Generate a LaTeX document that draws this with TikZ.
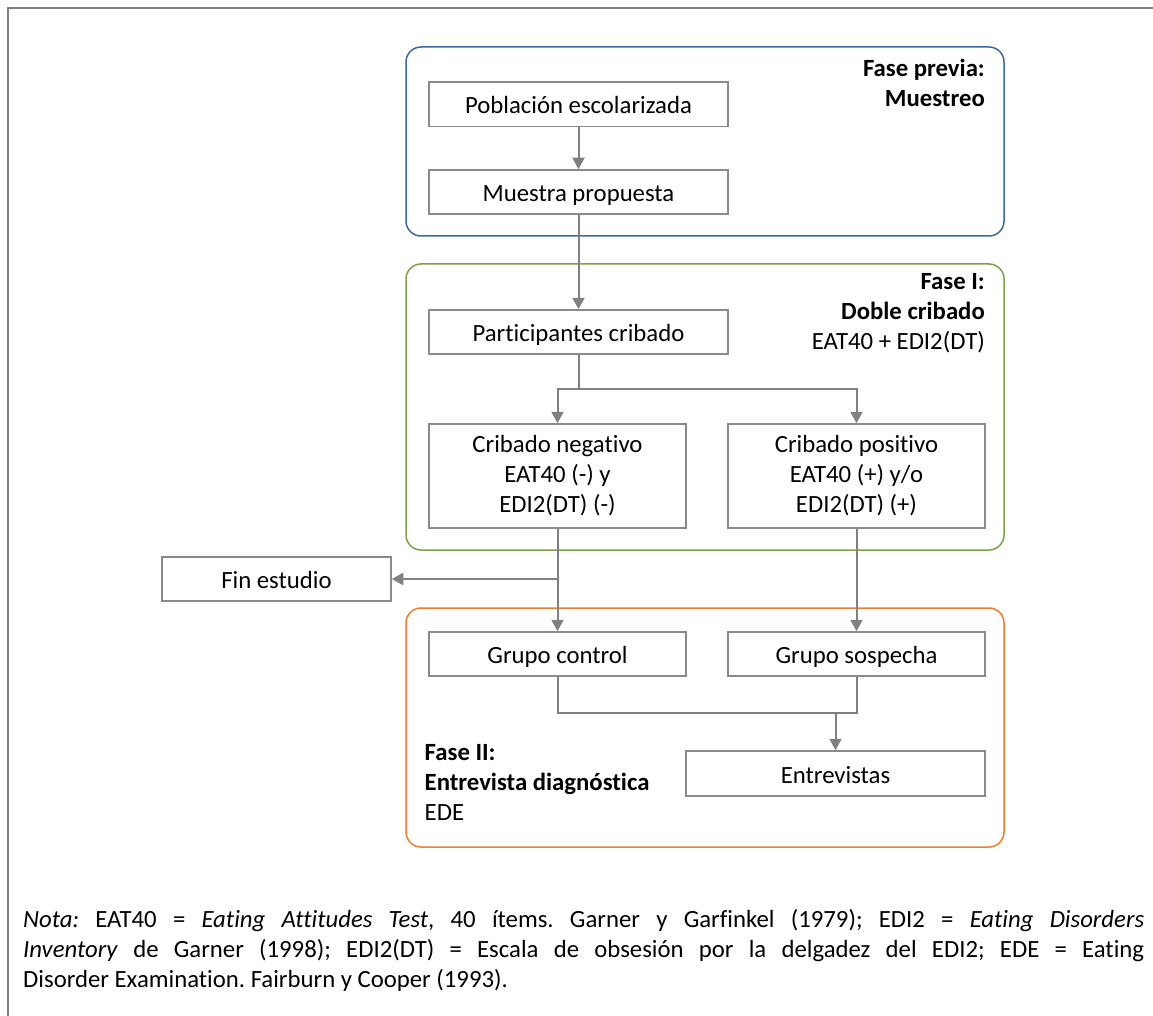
\documentclass[tikz,border=0pt]{standalone}
\usepackage{fontspec}
\setmainfont{Carlito}[Ligatures=NoCommon]
\usetikzlibrary{arrows.meta}

\definecolor{framegray}{HTML}{808080}
\definecolor{boxgray}{HTML}{8A8A8A}
\definecolor{linkgray}{HTML}{808080}
\definecolor{phaseblue}{HTML}{3C68A2}
\definecolor{phasegreen}{HTML}{79A343}
\definecolor{phaseorange}{HTML}{ED7D31}

\newcommand\bodyfont{\fontsize{24.75}{30}\selectfont}
\newcommand\bstrut{\rule[-5pt]{0pt}{29.5pt}}
\frenchspacing

\tikzset{
  stepbox/.style={draw=boxgray, line width=1.5pt, rectangle, inner sep=0pt,
    align=center, font=\bodyfont,
    execute at begin node=\bstrut, execute at end node=\bstrut},
  phasebox/.style={draw=#1, line width=1.5pt, rectangle, rounded corners=15pt,
    inner sep=0pt},
  phaselabel/.style={inner sep=0pt, font=\bodyfont, execute at begin node=\bstrut},
  link/.style={draw=linkgray, line width=2pt},
  conn/.style={link, -{Triangle[length=11.5pt,width=12pt]}},
}

\begin{document}
\begin{tikzpicture}[x=1pt, y=-1pt]
\useasboundingbox (0,0) rectangle (1153,1016);

% outer frame (open to the right and bottom)
\draw[framegray, line width=2pt] (8,1016) -- (8,8) -- (1153,8);

% phase containers
\node[phasebox=phaseblue,   minimum width=598pt, minimum height=189pt] (fprev) at (705,141.5) {};
\node[phasebox=phasegreen,  minimum width=598pt, minimum height=286pt] (fI)    at (705,407) {};
\node[phasebox=phaseorange, minimum width=598pt, minimum height=239pt] (fII)   at (705,727.5) {};

% phase labels
\node[phaselabel, align=right, anchor=north east] (lprev) at (985,58.5)
  {\textbf{Fase previa:}\\\textbf{Muestreo}};
\node[phaselabel, align=right, anchor=north east] (lI) at (985,273.5)
  {\textbf{Fase I:}\\\textbf{Doble cribado}\\EAT40 + EDI2(DT)};
\node[phaselabel, align=left, anchor=north west] (lII) at (424.5,744.5)
  {\textbf{Fase II:}\\\textbf{Entrevista diagnóstica}\\EDE};

% steps
\node[stepbox, minimum width=299pt, minimum height=44.5pt] (pob)  at (578.5,104.25) {Población escolarizada};
\node[stepbox, minimum width=299pt, minimum height=44pt]   (mue)  at (578.5,192) {Muestra propuesta};
\node[stepbox, minimum width=299pt, minimum height=44pt]   (part) at (578.5,332) {Participantes cribado};
\node[stepbox, minimum width=257pt, minimum height=104pt]  (neg)  at (557.5,476)
  {Cribado negativo\\EAT40 (-) y\\EDI2(DT) (-)};
\node[stepbox, minimum width=257pt, minimum height=104pt]  (pos)  at (856.5,476)
  {Cribado positivo\\EAT40 (+) y/o\\EDI2(DT) (+)};
\node[stepbox, minimum width=229pt, minimum height=44pt]   (fin)  at (276.5,579) {Fin estudio};
\node[stepbox, minimum width=257pt, minimum height=44pt]   (ctrl) at (557.5,654) {Grupo control};
\node[stepbox, minimum width=257pt, minimum height=44pt]   (sosp) at (856.5,654) {Grupo sospecha};
\node[stepbox, minimum width=299pt, minimum height=45pt]   (ent)  at (835.5,773.5) {Entrevistas};

% connectors
\draw[conn] (pob) -- (mue);
\draw[conn] (mue) -- (part);
\coordinate (br) at (578.5,389);
\draw[link] (part.south) -- (br);
\draw[conn] (br) -| (neg.north);
\draw[conn] (br) -| (pos.north);
\draw[conn] (neg) -- (ctrl);
\coordinate (fj) at (neg.south |- fin.east);
\draw[conn] (fj) -- (fin.east);
\draw[conn] (pos) -- (sosp);
\coordinate (jn) at (835.5,713);
\draw[link] (ctrl.south) |- (sosp.south |- jn) -- (sosp.south);
\draw[conn] (jn) -- (ent.north);

% note
\node[phaselabel, align=left, anchor=north west] (nota) at (23,909.5)
  {\makebox[1121pt][s]{\textit{Nota:} EAT40 = \textit{Eating Attitudes Test}, 40 ítems. Garner y Garfinkel (1979); EDI2 = \textit{Eating Disorders}}\\
   \makebox[1121pt][s]{\textit{Inventory} de Garner (1998); EDI2(DT) = Escala de obsesión por la delgadez del EDI2; EDE = Eating}\\
   Disorder Examination. Fairburn y Cooper (1993).};
\end{tikzpicture}
\end{document}
